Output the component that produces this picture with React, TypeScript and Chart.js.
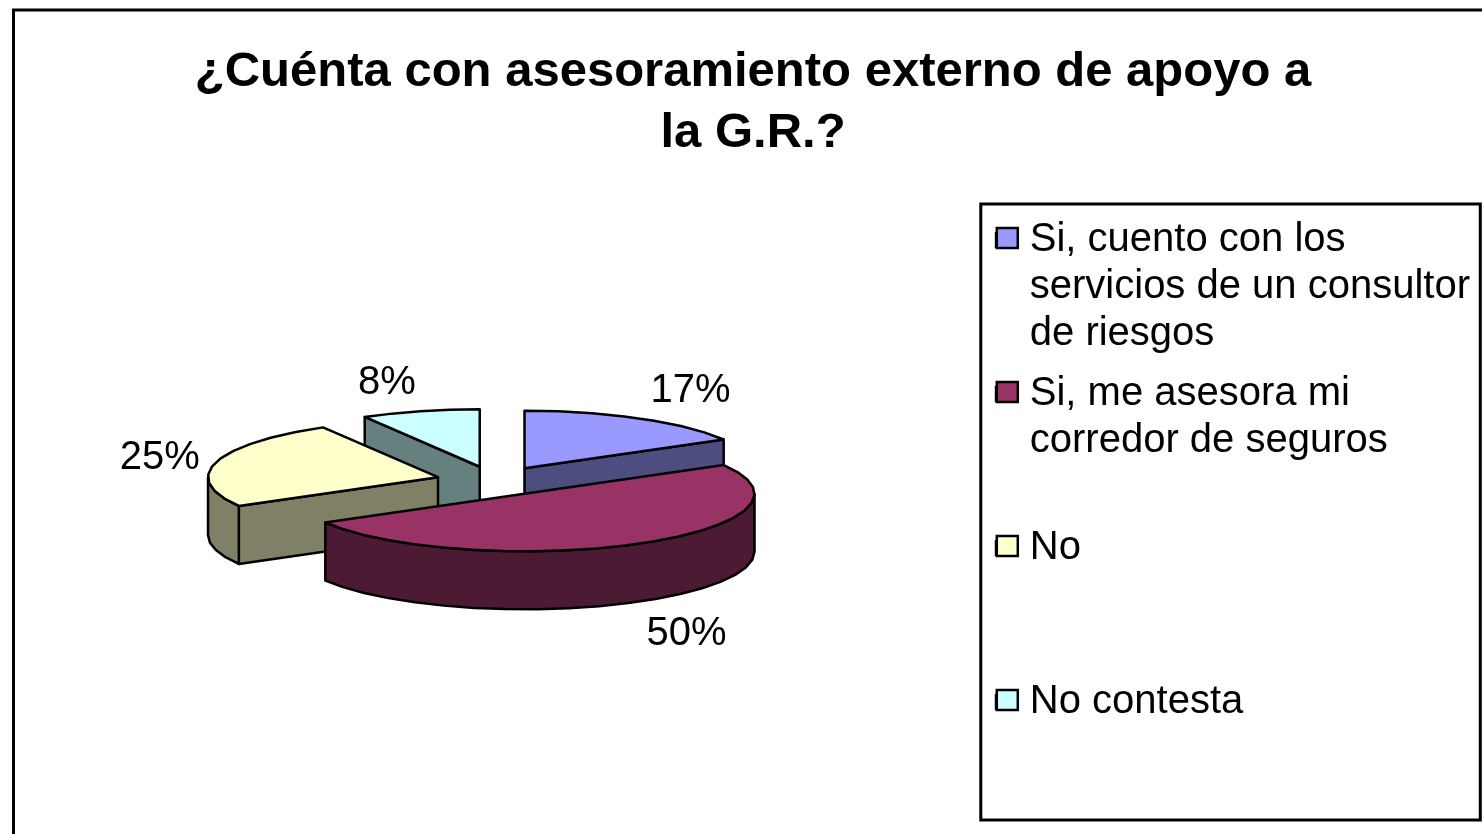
import React, { useEffect, useRef } from "react";
import { Chart, registerables } from "chart.js";

Chart.register(...registerables);

const categories: string[][] = [
  ["Si, cuento con los", "servicios de un consultor", "de riesgos"],
  ["Si, me asesora mi", "corredor de seguros", ""],
  ["No", "", ""],
  ["No contesta", "", ""],
];
const values: number[] = [17, 50, 25, 8];
const sliceShares: number[] = [2, 6, 3, 1];
const titleLines: string[] = ["¿Cuénta con asesoramiento externo de apoyo a", "la G.R.?"];

const topColors = ["#9999FF", "#993366", "#FFFFCC", "#CCFFFF"];
const wallColors = ["#4D4D80", "#4D1A33", "#808066", "#668080"];
const labelRadii = [336, 324, 287, 351];
const labelShiftX = [-2, 0, -1, -2];
const labelShiftY = [-5, 12, -1, 1];
const drawOrder = [3, 0, 2, 1];

const FONT = "'Liberation Sans', Arial, sans-serif";
const PIE_CX = 495;
const PIE_CY = 481;
const SQUASH = 0.25;
const DEPTH = 58;
const EXPLODE = 59;
const LEGEND_SHIFT = 9;
const STEP = (8 * Math.PI) / 180;

function arcPoints(cx: number, cy: number, r: number, a0: number, a1: number) {
  const pts: [number, number][] = [];
  const n = Math.max(1, Math.round((a1 - a0) / STEP));
  for (let i = 0; i <= n; i++) {
    const a = a0 + ((a1 - a0) * i) / n;
    pts.push([cx + r * Math.cos(a), cy + r * Math.sin(a) * SQUASH]);
  }
  return pts;
}

function poly(ctx: CanvasRenderingContext2D, pts: [number, number][], fill: string) {
  ctx.beginPath();
  pts.forEach((p, i) => (i ? ctx.lineTo(p[0], p[1]) : ctx.moveTo(p[0], p[1])));
  ctx.closePath();
  ctx.fillStyle = fill;
  ctx.fill();
  ctx.stroke();
}

const pie3d = {
  id: "pie3d",
  afterLayout(chart: any) {
    const legend = chart.legend;
    legend.top += LEGEND_SHIFT;
    legend.bottom += LEGEND_SHIFT;
    legend.legendHitBoxes.forEach((b: any) => {
      b.top += LEGEND_SHIFT;
    });
  },
  beforeDatasetsDraw(chart: any) {
    const ctx: CanvasRenderingContext2D = chart.ctx;
    const arcs = chart.getDatasetMeta(0).data;
    ctx.save();
    ctx.strokeStyle = "#000";
    ctx.lineWidth = 2.5;
    ctx.lineJoin = "round";
    drawOrder.forEach((i) => {
      const { startAngle: a0, endAngle: a1, outerRadius: r } = arcs[i];
      const mid = (a0 + a1) / 2;
      const cx = PIE_CX + EXPLODE * Math.cos(mid);
      const cy = PIE_CY + EXPLODE * Math.sin(mid) * SQUASH;
      const edge = (a: number): [number, number] => [cx + r * Math.cos(a), cy + r * Math.sin(a) * SQUASH];
      const face = (a: number) => {
        const e = edge(a);
        poly(ctx, [[cx, cy], e, [e[0], e[1] + DEPTH], [cx, cy + DEPTH]], wallColors[i]);
      };
      if (Math.sin(a0 - Math.PI / 2) > 1e-3) face(a0);
      if (Math.sin(a1 + Math.PI / 2) > 1e-3) face(a1);
      const lo = Math.max(a0, 0);
      const hi = Math.min(a1, Math.PI);
      if (hi > lo) {
        const top = arcPoints(cx, cy, r, lo, hi);
        const bottom = top.map(([x, y]) => [x, y + DEPTH] as [number, number]).reverse();
        poly(ctx, [...top, ...bottom], wallColors[i]);
      }
      poly(ctx, [[cx, cy], ...arcPoints(cx, cy, r, a0, a1)], topColors[i]);
    });
    ctx.restore();
    return false;
  },
  afterDraw(chart: any) {
    const ctx: CanvasRenderingContext2D = chart.ctx;
    const arcs = chart.getDatasetMeta(0).data;
    const legend = chart.legend;
    ctx.save();
    ctx.strokeStyle = "#000";
    ctx.lineWidth = 3;
    ctx.beginPath();
    ctx.moveTo(13.5, 834);
    ctx.lineTo(13.5, 10);
    ctx.lineTo(1482, 10);
    ctx.stroke();
    ctx.strokeRect(legend.left - 2, legend.top - 3, 499.5, 616);
    ctx.lineWidth = 2.5;
    legend.legendHitBoxes.forEach((b: any, i: number) => {
      ctx.fillStyle = topColors[i];
      ctx.fillRect(b.left + 1, b.top + 8, 21, 20);
      ctx.strokeRect(b.left + 1, b.top + 8, 21, 20);
    });
    ctx.fillStyle = "#000";
    ctx.font = `40px ${FONT}`;
    ctx.textAlign = "center";
    ctx.textBaseline = "middle";
    arcs.forEach((arc: any, i: number) => {
      const mid = (arc.startAngle + arc.endAngle) / 2;
      const cx = PIE_CX + EXPLODE * Math.cos(mid);
      const cy = PIE_CY + EXPLODE * Math.sin(mid) * SQUASH;
      const x = cx + labelRadii[i] * Math.cos(mid) + labelShiftX[i];
      const front = Math.sin(mid) > 0 ? DEPTH : 0;
      const y = cy + labelRadii[i] * Math.sin(mid) * SQUASH + front + labelShiftY[i];
      ctx.fillText(`${values[i]}%`, x, y);
    });
    ctx.restore();
  },
};

export default function App() {
  const ref = useRef<HTMLCanvasElement>(null);
  useEffect(() => {
    const chart = new Chart(ref.current!, {
      type: "pie",
      data: {
        labels: categories as any,
        datasets: [{ data: sliceShares, backgroundColor: topColors, borderColor: "#000", borderWidth: 2 }],
      },
      options: {
        animation: false,
        responsive: false,
        radius: 230,
        layout: { padding: { left: 26, right: 2, top: 0, bottom: 0 } },
        plugins: {
          tooltip: { enabled: false },
          title: {
            display: true,
            text: titleLines,
            color: "#000",
            font: { family: FONT, size: 49, weight: "bold", lineHeight: 1.245 },
            padding: { top: 41.5, bottom: 34.5 },
          },
          legend: {
            display: true,
            position: "right",
            align: "start",
            fullSize: false,
            labels: {
              color: "#000",
              boxWidth: 14,
              boxHeight: 14,
              padding: 13,
              font: { family: FONT, size: 40, lineHeight: 1.175 },
            },
          },
        },
      } as any,
      plugins: [pie3d],
    });
    return () => chart.destroy();
  }, []);
  return (
    <canvas
      ref={ref}
      width={1482}
      height={834}
      style={{ position: "fixed", left: 0, top: 0, width: 1482, height: 834 }}
    />
  );
}
